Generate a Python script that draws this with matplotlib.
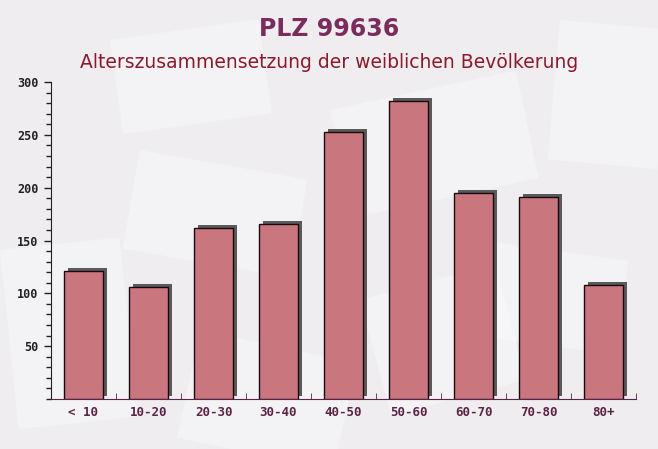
import matplotlib
matplotlib.use("Agg")
import matplotlib.pyplot as plt
from matplotlib.patches import Rectangle
from matplotlib.transforms import ScaledTranslation, Affine2D
from matplotlib.ticker import MultipleLocator

# Age groups and number of women per group
categories = ["< 10", "10-20", "20-30", "30-40", "40-50", "50-60", "60-70", "70-80", "80+"]
values = [121, 106, 162, 166, 253, 282, 195, 191, 108]

title = "PLZ 99636"
subtitle = "Alterszusammensetzung der weiblichen Bevölkerung"

bg_color = "#efedf0"
bar_color = "#c9767f"
label_color = "#5b2447"

fig = plt.figure(figsize=(6.58, 4.49), dpi=100)
fig.patch.set_facecolor(bg_color)
W, H = 658, 449
px_to_fig = Affine2D().scale(1 / W, 1 / H) + fig.transFigure

# faint envelope-like shapes in the background (decoration only)
bg_shapes = [(110, 40, 150, 95, 8), (140, 150, 170, 100, -10), (330, 110, 190, 110, 12),
             (480, 240, 150, 95, -8), (360, 300, 140, 120, 15), (0, 250, 120, 180, 6),
             (560, 20, 110, 140, -5), (200, 330, 160, 110, -12)]
for px, py, pw, ph, ang in bg_shapes:
    r = Rectangle((px, H - py - ph), pw, ph, facecolor="white", alpha=0.3,
                  edgecolor="none",
                  transform=Affine2D().rotate_deg_around(px, H - py, ang) + px_to_fig,
                  zorder=-1)
    fig.patches.append(r)

# axes box in pixels: x 51..636, y 82..399
ax = fig.add_axes([51 / W, (H - 399) / H, 585 / W, (399 - 82) / H])
ax.set_facecolor("none")
ax.set_zorder(1)

x_pos = [i + 0.5 for i in range(len(categories))]

# drop shadow, shifted right and up
shadow = ax.transData + ScaledTranslation(4 / 100, 3 / 100, fig.dpi_scale_trans)
ax.bar(x_pos, values, width=0.6, color="#5a5a5a", transform=shadow, zorder=2)
ax.bar(x_pos, values, width=0.6, color=bar_color, edgecolor="#1a0a0f",
       linewidth=1.0, zorder=3)

ax.set_xlim(0, len(categories))
ax.set_ylim(0, 300)

ax.set_xticks(x_pos)
ax.set_xticklabels(categories)
ax.xaxis.set_minor_locator(MultipleLocator(1))
ax.tick_params(axis="x", which="major", length=0, pad=5)
ax.tick_params(axis="x", which="minor", direction="in", length=4, color=label_color)

ax.set_yticks([50, 100, 150, 200, 250, 300])
ax.yaxis.set_minor_locator(MultipleLocator(10))
ax.tick_params(axis="y", which="major", length=5, width=1, color="#222222", pad=4)
ax.tick_params(axis="y", which="minor", length=3.5, width=1, color="#222222")

for lab in ax.get_xticklabels() + ax.get_yticklabels():
    lab.set_family("DejaVu Sans Mono")
    lab.set_fontweight("bold")
for lab in ax.get_xticklabels():
    lab.set_fontsize(9)
    lab.set_color(label_color)
for lab in ax.get_yticklabels():
    lab.set_fontsize(8.5)
    lab.set_color("#222222")

for side in ["top", "right"]:
    ax.spines[side].set_visible(False)
ax.spines["left"].set_color("#222222")
ax.spines["bottom"].set_color(label_color)

fig.text(0.5, 1 - 29 / H, title, ha="center", va="center", fontsize=17,
         fontweight="bold", color="#7a2d5c")
fig.text(0.5, 1 - 62 / H, subtitle, ha="center", va="center", fontsize=13.5,
         color="#8b1a2c")

fig.savefig("out.png", dpi=100, facecolor=fig.get_facecolor())
